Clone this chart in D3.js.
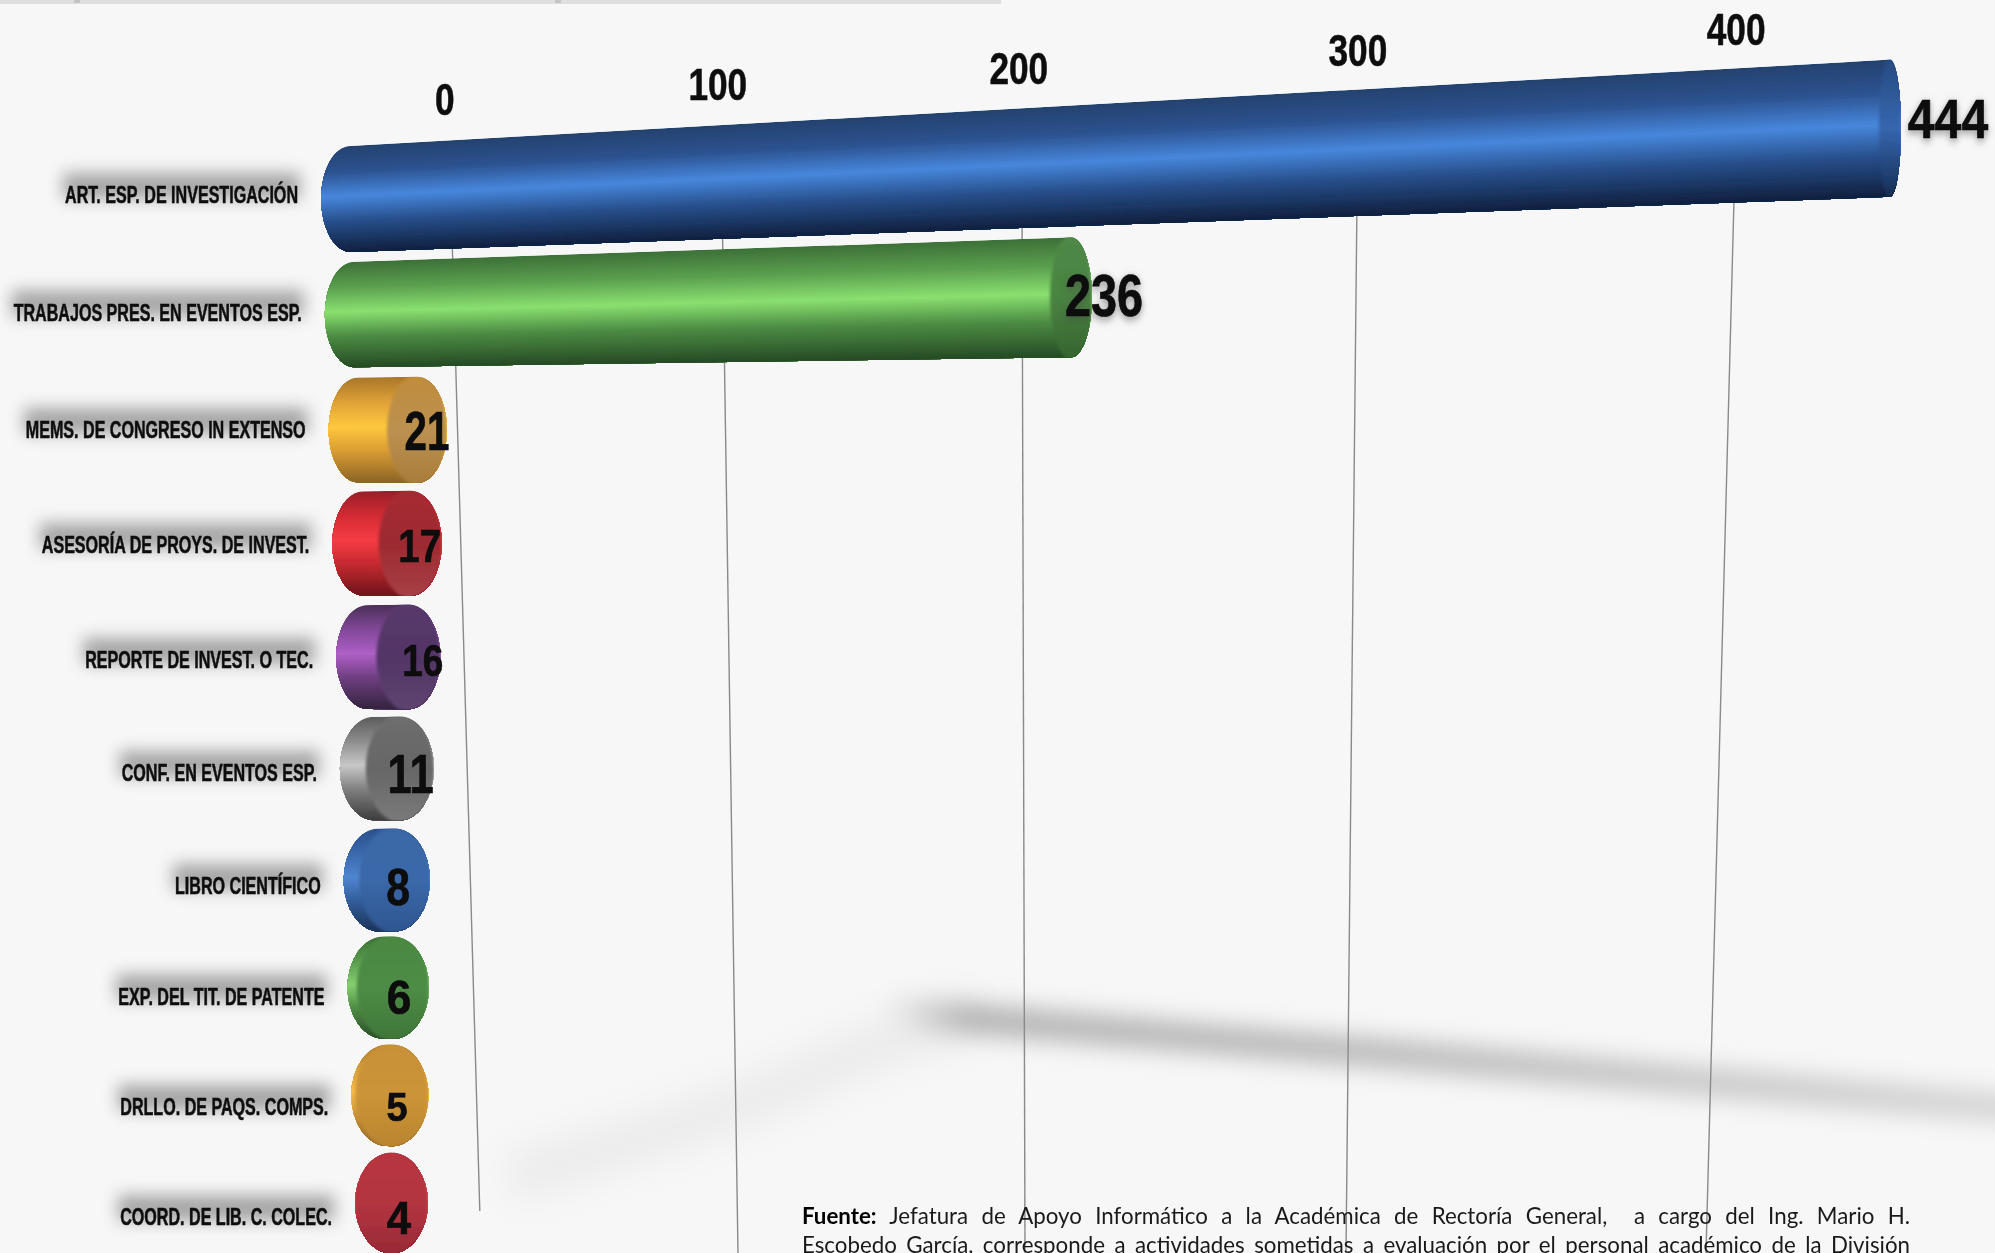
<!DOCTYPE html>
<html lang="es">
<head>
<meta charset="utf-8">
<script src="https://cdn.jsdelivr.net/npm/d3@7/dist/d3.min.js"></script>
<style>
html,body{margin:0;padding:0;background:#f7f7f7;overflow:hidden}
svg{display:block}
text{font-family:"Liberation Sans",Arial,sans-serif}
</style>
</head>
<body>
<svg id="chart" width="1995" height="1253"></svg>
<script>
// ---- data ----
const categories = ["ART. ESP. DE INVESTIGACIÓN","TRABAJOS PRES. EN EVENTOS ESP.","MEMS. DE CONGRESO IN EXTENSO","ASESORÍA DE PROYS. DE INVEST.","REPORTE DE INVEST. O TEC.","CONF. EN EVENTOS ESP.","LIBRO CIENTÍFICO","EXP. DEL TIT. DE PATENTE","DRLLO. DE PAQS. COMPS.","COORD. DE LIB. C. COLEC."];
const values = [444,236,21,17,16,11,8,6,5,4];
const tickValues = [0,100,200,300,400];
const tickLabels = ["0","100","200","300","400"];
const footnoteBold = "Fuente:";
const footnoteLines = [" Jefatura de Apoyo Informático a la Académica de Rectoría General,\u00a0 a cargo del Ing. Mario H.","Escobedo García, corresponde a actividades sometidas a evaluación por el personal académico de la División"];

// ---- styles: body ramp [top, upper, highlight, lower, bottom], cap ramp [top, mid, bottom] ----
const bodyColors = [
 ["#24426f","#2d5390","#4787dc","#28508c","#10203e"],
 ["#3d7038","#5ba04f","#8ae070","#4d8c44","#264a25"],
 ["#a8762a","#e0a238","#ffc83e","#d99c34","#8a6426"],
 ["#98202a","#d42c34","#f63c44","#c42a30","#6e141c"],
 ["#4c3058","#82499a","#ae5fc6","#6e4080","#34243e"],
 ["#5c5c5c","#8e8e8e","#c8c8c8","#808080","#3e3e3e"],
 ["#2c508c","#3a68ac","#5086d0","#335e9c","#1c3458"],
 ["#3c7036","#5a9c4e","#86cf70","#4f8c46","#2a4c28"],
 ["#a8782c","#d8a03c","#f6bc46","#c89238","#8a6228"],
 ["#8c2430","#c83a46","#e6505a","#b02e3a","#6c1a24"]];
const capColors = [
 ["#274a80","#3566ae","#152c50"],
 ["#4f8846","#4a8442","#35632f"],
 ["#c08c3c","#bc9050","#a87c38"],
 ["#a82c30","#9c2a30","#a84048"],
 ["#5a3a6c","#523466","#5e4470"],
 ["#6e6e6e","#666666","#7a7a7a"],
 ["#3a66a6","#3a68a8","#2e5590"],
 ["#4a8842","#4d8c46","#3f7638"],
 ["#c89038","#cc9438","#b8842e"],
 ["#b83440","#b23440","#982a36"]];
const labelSizes = [56,60,56,47,44,56,52,48,40,46];
const labelStretch = [.86,.78,.72,.82,.84,.78,.82,.92,.95,.95];
const labelNudge = [0,0,0,0,5,2,-5,-2,-3,0];
const CAT_STRETCH = 0.685, TICK_STRETCH = 0.8, TICK_SIZE = 44;

// ---- scales ----
const ROW_TOP = 200, ROW_BOTTOM = 1253;
const gridTop = d3.scaleLinear().domain(tickValues).range([451,722,1022,1357,1734]);
const gridBottom = d3.scaleLinear().domain(tickValues).range([481,738,1025,1346,1706]);
const gridStart = d3.scaleLinear().domain(tickValues).range([230,230,215,205,190]);
const gridEnd = d3.scaleOrdinal().domain(tickValues).range([1211,1253,1253,1253,1253]);
const depth = d3.scaleLinear().domain([ROW_TOP,ROW_BOTTOM]).range([0,1]);
const gridX = (v,y)=>d3.interpolateNumber(gridTop(v),gridBottom(v))(depth(y));
const tickY = d3.scaleLinear().domain([445,1736]).range([100,30]);

const rowIndex = categories.map((_,i)=>i);
const rowY = d3.scaleLinear().domain([0,2,4,6,9]).range([199,430,657,880,1203]);
const labelY = d3.scaleLinear().domain([0,2,4,6,9]).range([195,430,660,886,1217]);
const labelRight = d3.scaleLinear().domain([0,9]).range([298,332]);
const leftEdge = d3.scaleLinear().domain([0,9]).range([321,355]);
const rightEdge = d3.scaleLinear().domain([4,8,21,236,444]).range([428,430,447,1092,1901]);
const capRx = d3.scaleLinear().domain([4,21,236,444]).range([37,30,21,11]);
const slope = d3.scaleLinear().domain([0,1,2,9]).range([-0.046,-0.024,-0.002,0]).clamp(true);
const baseH = d3.scaleLinear().domain([0,9]).range([106,100]);
const taper = x=>1+(x-340)*0.00019;
const labelShift = d3.scaleLinear().domain([4,21,236,444]).range([-29,-20,12,47]);

const svg = d3.select("#chart");
const defs = svg.append("defs");
function blur(id,s){
  defs.append("filter").attr("id",id).attr("filterUnits","userSpaceOnUse")
    .attr("x",-100).attr("y",-100).attr("width",2200).attr("height",1500)
    .append("feGaussianBlur").attr("stdDeviation",s);
}
blur("b16",18); blur("b13",13); blur("b8",8); blur("soft",0.55); blur("capSoft",1.6);

svg.append("rect").attr("width",1995).attr("height",1253).attr("fill","#f7f7f7");

// top band left over from the source page
svg.append("rect").attr("width",1001).attr("height",4).attr("fill","#dedfe0");
svg.selectAll(".bump").data([77,558]).join("rect").attr("x",d=>d-3).attr("width",6).attr("height",3).attr("fill","#c4c4c4");

// floor shadow
const bandGrad = defs.append("linearGradient").attr("id","band").attr("gradientUnits","userSpaceOnUse")
  .attr("x1",890).attr("y1",0).attr("x2",1995).attr("y2",0);
[["0","#f0f0f0"],["0.07","#a8a8a8"],["0.45","#b2b2b2"],["1","#d0d0d0"]].forEach(s=>bandGrad.append("stop").attr("offset",s[0]).attr("stop-color",s[1]));
const bandLine = d3.line().curve(d3.curveBasis);
svg.append("path").attr("d",bandLine([[974,1017],[880,1040],[780,1092],[640,1140],[510,1178]]))
  .attr("fill","none").attr("stroke","#ebebeb").attr("stroke-width",46).attr("filter","url(#b16)");
svg.append("path").attr("d",bandLine([[890,1012],[1150,1034],[1346,1050],[1710,1082],[2030,1110]]))
  .attr("fill","none").attr("stroke","url(#band)").attr("stroke-width",26).attr("filter","url(#b13)");

// grid lines
svg.append("g").selectAll("line").data(tickValues).join("line")
  .attr("x1",d=>gridX(d,gridStart(d))).attr("y1",d=>gridStart(d))
  .attr("x2",d=>gridX(d,gridEnd(d))).attr("y2",d=>gridEnd(d))
  .attr("stroke","#8a8a8a").attr("stroke-width",1.4);

// tick labels
svg.append("g").attr("filter","url(#soft)").selectAll("text").data(tickValues).join("text")
  .attr("transform",d=>{
    const x=gridX(d,120)-(d===0?4:d===100?3:d===200?3:0);
    return `translate(${x},${tickY(gridX(d,120))+15}) scale(${TICK_STRETCH},1)`;
  })
  .attr("text-anchor","middle").attr("font-weight","700").attr("font-size",TICK_SIZE)
  .attr("fill","#111").attr("stroke","#111").attr("stroke-width",.6)
  .text((d,i)=>tickLabels[i]);

// geometry of a row
function geom(i){
  const v = values[i];
  const rx = capRx(v);
  const leftRx = capRx(Math.min(v,21)>=21?21:v);
  const lx = leftEdge(i)+leftRx;
  const cx = rightEdge(v)-rx;
  const yl = rowY(i);
  const yr = yl + slope(i)*(cx-lx);
  const hl = baseH(i)*taper(lx);
  const hr = baseH(i)*taper(cx);
  return {rx,leftRx,lx,cx,yl,yr,hl,hr};
}

// bars: bands along the cylinder painted top to bottom, clipped to its outline
const STRIPS = 60;
const stripT = d3.range(STRIPS);
const bars = svg.append("g").attr("filter","url(#soft)");
rowIndex.forEach(i=>{
  const g = geom(i);
  const ramp = d3.scaleLinear().domain([0,.24,.47,.7,1]).range(bodyColors[i]).interpolate(d3.interpolateRgb);
  const outline = `M${g.lx},${g.yl-g.hl/2} L${g.cx},${g.yr-g.hr/2} A${g.rx},${g.hr/2} 0 0 1 ${g.cx},${g.yr+g.hr/2} L${g.lx},${g.yl+g.hl/2} A${g.leftRx},${g.hl/2} 0 0 1 ${g.lx},${g.yl-g.hl/2} Z`;
  defs.append("clipPath").attr("id","clip"+i).append("path").attr("d",outline);
  const bar = bars.append("g");
  bar.append("g").attr("clip-path",`url(#clip${i})`).selectAll("path").data(stripT).join("path")
    .attr("d",s=>{
      const a=s/STRIPS;
      const xL=g.lx-g.leftRx-2,xR=g.cx+g.rx+2;
      const yAt=(x,t)=>{
        const k=(x-g.lx)/(g.cx-g.lx||1);
        return (g.yl-g.hl/2)+k*((g.yr-g.hr/2)-(g.yl-g.hl/2))+t*(g.hl+k*(g.hr-g.hl));
      };
      return `M${xL},${yAt(xL,a)} L${xR},${yAt(xR,a)} L${xR},${yAt(xR,1.02)} L${xL},${yAt(xL,1.02)} Z`;
    })
    .attr("fill",s=>ramp((s+.5)/STRIPS));
  const gid="cap"+i;
  const lg=defs.append("linearGradient").attr("id",gid).attr("x1",0).attr("y1",0).attr("x2",0).attr("y2",1);
  capColors[i].forEach((c,k)=>lg.append("stop").attr("offset",k/2).attr("stop-color",c));
  bar.append("g").attr("clip-path",`url(#clip${i})`).append("ellipse")
    .attr("cx",g.cx).attr("cy",g.yr).attr("rx",g.rx).attr("ry",g.hr/2+2).attr("fill",`url(#${gid})`).attr("filter","url(#capSoft)");
});

// value labels
const valueX = i=>rightEdge(values[i])+labelShift(values[i])+labelNudge[i];
const valueY = i=>i===0?labelY(i)-77:i===1?labelY(i)-18:labelY(i);
const valueT = i=>`translate(${valueX(i)},${valueY(i)}) scale(${labelStretch[i]},1)`;
svg.append("g").selectAll("text").data(rowIndex).join("text")
  .attr("transform",valueT)
  .attr("dy",".36em").attr("text-anchor","middle").attr("font-weight","700")
  .attr("font-size",i=>labelSizes[i]).attr("fill","#0d0d0d").attr("stroke","#0d0d0d").attr("stroke-width",.7)
  .style("filter",i=>i<2?"drop-shadow(0 3px 4px rgba(70,70,70,.55))":null)
  .text(i=>values[i]);

// category labels with a blurred grey smear sized from the measured text
const haloG = svg.append("g").attr("filter","url(#b8)").attr("opacity",.6);
const catT = i=>`translate(${labelRight(i)},${labelY(i)}) scale(${CAT_STRETCH},1)`;
const cats = svg.append("g").attr("filter","url(#soft)").selectAll("text").data(rowIndex).join("text")
  .attr("transform",catT).attr("dy",".36em").attr("text-anchor","end")
  .attr("font-weight","700").attr("font-size",23.5).attr("fill","#0d0d0d").attr("stroke","#0d0d0d").attr("stroke-width",.55)
  .text(i=>categories[i]);
const catWidths = cats.nodes().map(n=>n.getComputedTextLength()*CAT_STRETCH);
haloG.selectAll("rect").data(rowIndex).join("rect")
  .attr("x",i=>labelRight(i)-catWidths[i]-2).attr("width",i=>catWidths[i]+4)
  .attr("y",i=>labelY(i)-22).attr("height",26).attr("fill","#707070");

// footnote, justified between two margins
const FOOT_L = 802, FOOT_R = 1910;
const foot = svg.append("g").attr("font-size",22.3).attr("fill","#1a1a1a");
footnoteLines.forEach((line,k)=>{
  const t = foot.append("text").attr("x",FOOT_L).attr("y",1224+k*29)
    .style("font-family",'"Lato","Open Sans",sans-serif');
  if(k===0) t.append("tspan").attr("font-weight","700").attr("fill","#000").text(footnoteBold);
  t.append("tspan").text(line);
  const spaces = ((k===0?footnoteBold:"")+line).split(/[ \u00a0]/).length-1;
  const extra = (FOOT_R-FOOT_L-t.node().getComputedTextLength())/spaces;
  t.style("word-spacing",extra+"px");
});
</script>
</body>
</html>
